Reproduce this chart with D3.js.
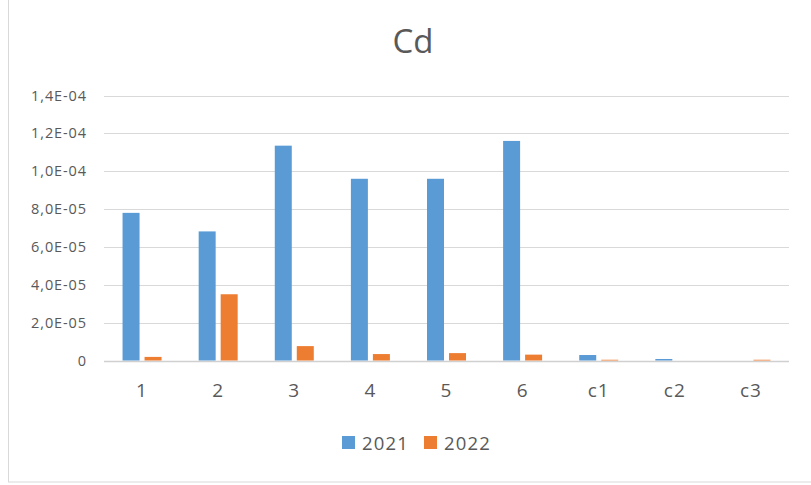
<!DOCTYPE html>
<html lang="en">
<head>
    <meta charset="UTF-8">
    <title>Cd</title>
    <script src="https://cdn.jsdelivr.net/npm/d3@7/dist/d3.min.js"></script>
    <style>
        body { margin: 0; background: #fff; }
        text { font-family: "Open Sans", "Noto Sans", sans-serif; fill: #595959; }
    </style>
</head>
<body>
<svg width="811" height="485" id="main"></svg>
<script>
    const categories = ["1", "2", "3", "4", "5", "6", "c1", "c2", "c3"];
    const series = ["2021", "2022"];
    const values2021 = [7.8e-5, 6.82e-5, 1.135e-4, 9.6e-5, 9.6e-5, 1.16e-4, 2.9e-6, 8e-7, 0];
    const values2022 = [1.9e-6, 3.5e-5, 7.6e-6, 3.4e-6, 3.9e-6, 3.1e-6, 4e-7, 0, 4e-7];
    const yTicks = [0, 2e-5, 4e-5, 6e-5, 8e-5, 1e-4, 1.2e-4, 1.4e-4];
    const colors = ["#5b9bd5", "#ed7d31"];

    const svg = d3.select("#main");
    const margin = {top: 96, right: 22, bottom: 125, left: 104};
    const width = 811, height = 485;

    // chart frame
    svg.append("rect")
        .attr("x", 8.5).attr("y", -5)
        .attr("width", 810).attr("height", 487)
        .attr("fill", "none").attr("stroke", "#d9d9d9");

    const x = d3.scaleBand()
        .domain(categories)
        .range([margin.left, width - margin.right]);

    const y = d3.scaleLinear()
        .domain([0, 1.4e-4])
        .range([360.5, 95.5]);

    const fmt = v => {
        if (v === 0) return "0";
        const [m, e] = v.toExponential(1).split("e");
        const exp = parseInt(e);
        const sign = exp < 0 ? "-" : "+";
        return m.replace(".", ",") + "E" + sign + String(Math.abs(exp)).padStart(2, "0");
    };

    // gridlines
    svg.append("g")
        .selectAll("line")
        .data(yTicks)
        .join("line")
        .attr("x1", margin.left).attr("x2", width - margin.right)
        .attr("y1", d => Math.round(y(d)) + 0.5).attr("y2", d => Math.round(y(d)) + 0.5)
        .attr("stroke", d => d === 0 ? "#d0d0d0" : "#d9d9d9")
        .attr("stroke-width", d => d === 0 ? 1.5 : 1);

    // y labels
    svg.append("g")
        .selectAll("text")
        .data(yTicks)
        .join("text")
        .attr("x", 87)
        .attr("y", d => y(d))
        .attr("dy", "0.35em")
        .attr("text-anchor", "end")
        .attr("font-size", 14.5)
        .attr("letter-spacing", 0.9)
        .text(fmt);

    // bars
    const bw = 17, gap = 5;
    const data = series.map((s, i) => ({s, i, vals: i === 0 ? values2021 : values2022}));
    svg.append("g")
        .selectAll("g")
        .data(data)
        .join("g")
        .attr("fill", d => colors[d.i])
        .selectAll("rect")
        .data(d => d.vals.map((v, k) => ({v, k, i: d.i})))
        .join("rect")
        .attr("x", d => x(categories[d.k]) + x.bandwidth() / 2 - bw - gap / 2 + d.i * (bw + gap))
        .attr("width", bw)
        .attr("y", d => y(d.v))
        .attr("height", d => y(0) - y(d.v));

    // x labels
    svg.append("g")
        .selectAll("text")
        .data(categories)
        .join("text")
        .attr("x", d => x(d) + x.bandwidth() / 2)
        .attr("y", 397)
        .attr("text-anchor", "middle")
        .attr("font-size", 19)
        .attr("letter-spacing", 1)
        .text(d => d);

    // title
    svg.append("text")
        .attr("x", 413).attr("y", 53)
        .attr("text-anchor", "middle")
        .attr("font-size", 33)
        .text("Cd");

    // legend
    const legX = [342, 424];
    const leg = svg.append("g");
    series.forEach((s, i) => {
        leg.append("rect")
            .attr("x", legX[i]).attr("y", 436)
            .attr("width", 13).attr("height", 13)
            .attr("fill", colors[i]);
        leg.append("text")
            .attr("x", legX[i] + 20).attr("y", 450)
            .attr("font-size", 18.5)
            .attr("letter-spacing", 1.2)
            .text(s);
    });
</script>
</body>
</html>
